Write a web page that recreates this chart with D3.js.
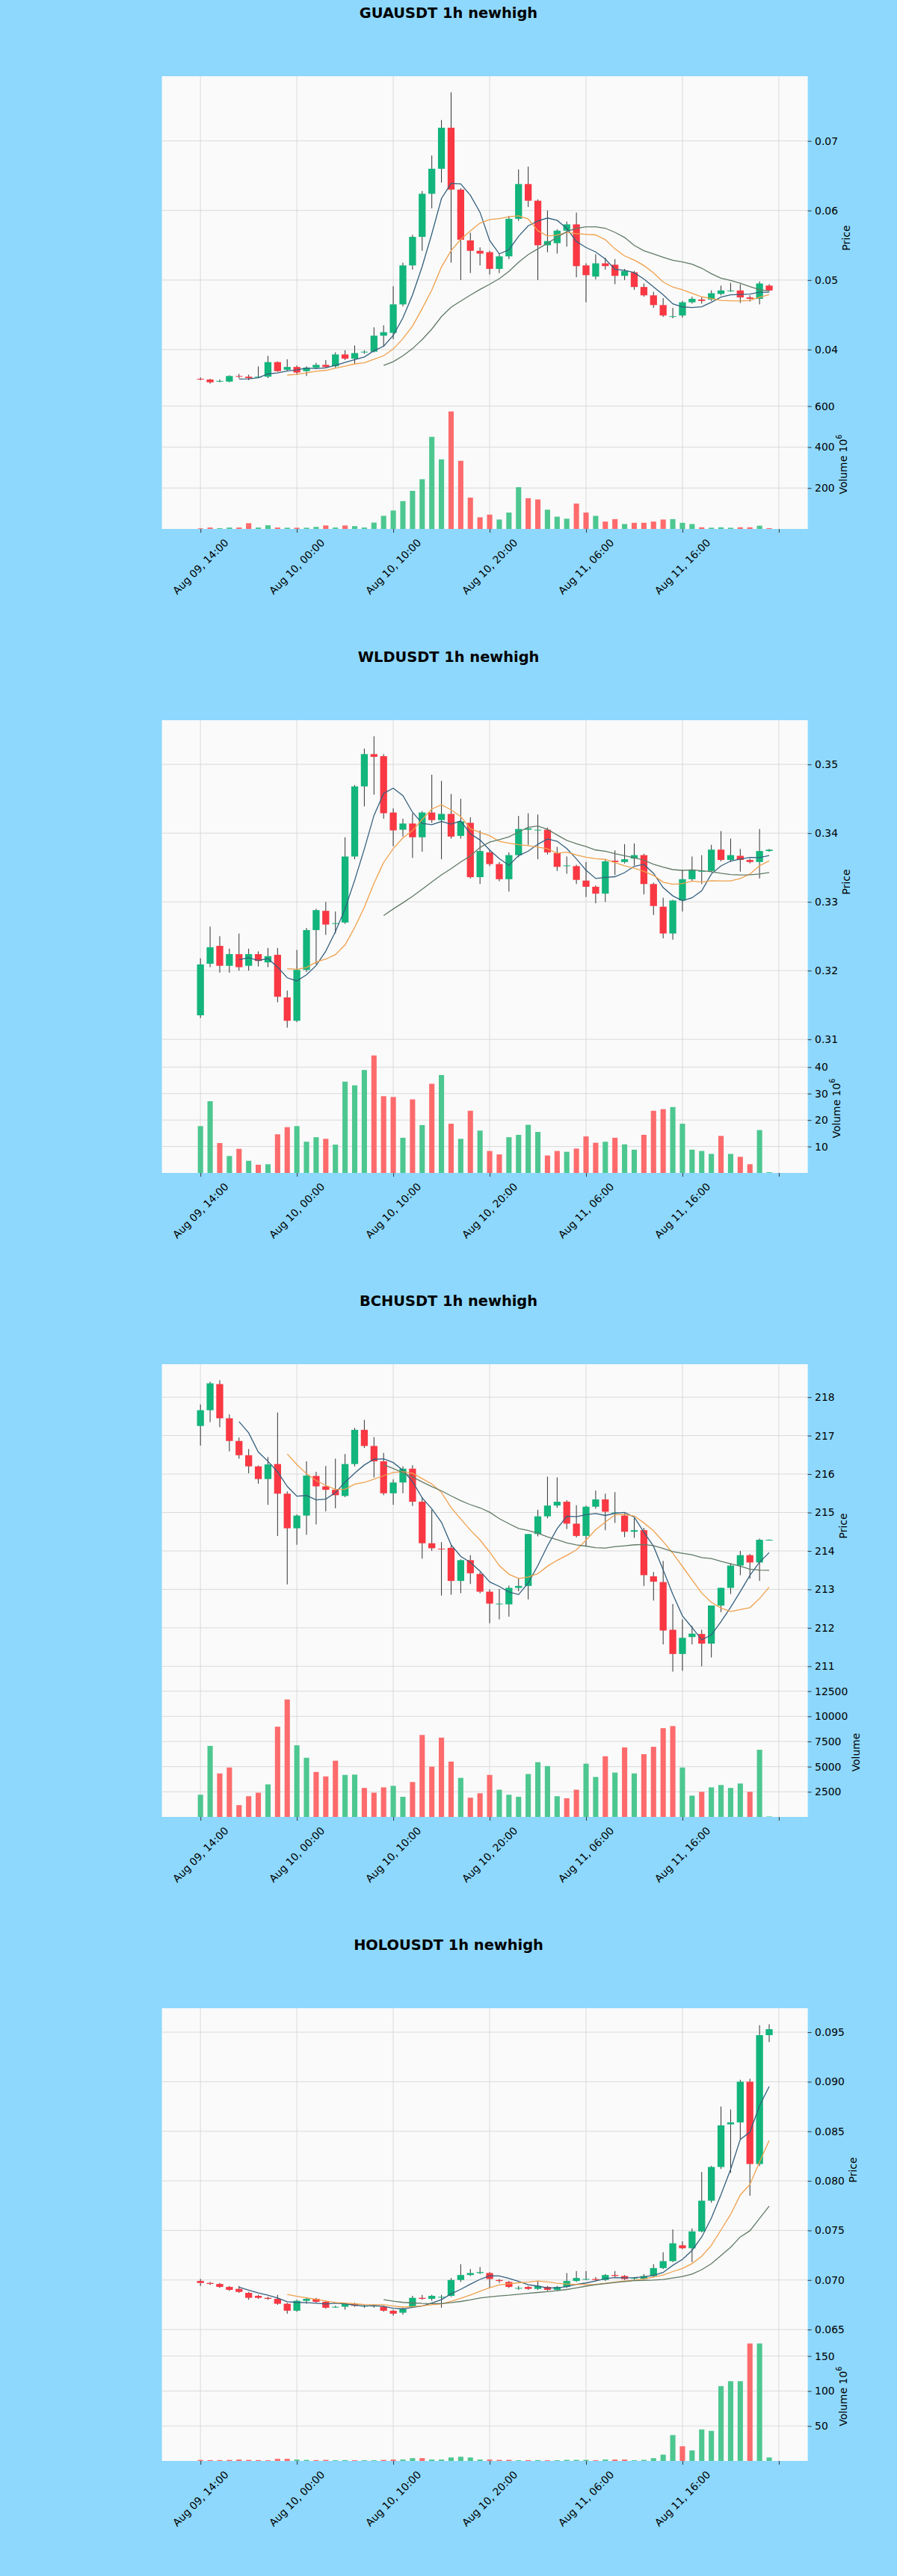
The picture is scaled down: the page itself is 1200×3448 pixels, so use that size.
<!DOCTYPE html>
<html>
<head>
<meta charset="utf-8">
<script src="https://cdn.jsdelivr.net/npm/d3@7"></script>
<style>
  body { margin: 0; background: #8ed8fd; }
  svg { display: block; font-family: "DejaVu Sans", sans-serif; }
</style>
</head>
<body>
<svg id="chart" width="1200" height="3448"></svg>
<script>
// ---- shared axis data ----
var timeTicks = [0, 10, 20, 30, 40, 50, 60];
var timeLabels = ["Aug 09, 14:00", "Aug 10, 00:00", "Aug 10, 10:00", "Aug 10, 20:00", "Aug 11, 06:00", "Aug 11, 16:00"];
var maPeriods = [5, 10, 20];

// ---- GUAUSDT (volume in 1e6) ----
var guaOpen  = [0.0358,0.0357,0.0354,0.0354,0.0362,0.0361,0.0360,0.0361,0.0382,0.0371,0.0375,0.0369,0.0374,0.0378,0.0376,0.0393,0.0387,0.0396,0.0397,0.0420,
                0.0424,0.0465,0.0521,0.0562,0.0624,0.0660,0.0719,0.0630,0.0557,0.0542,0.0540,0.0516,0.0534,0.0588,0.0638,0.0614,0.0550,0.0553,0.0571,0.0580,
                0.0521,0.0505,0.0524,0.0522,0.0506,0.0511,0.0490,0.0478,0.0464,0.0448,0.0449,0.0468,0.0472,0.0472,0.0480,0.0485,0.0485,0.0475,0.0473,0.0492];
var guaHigh  = [0.0360,0.0358,0.0357,0.0363,0.0365,0.0364,0.0376,0.0391,0.0383,0.0386,0.0377,0.0376,0.0381,0.0385,0.0396,0.0399,0.0406,0.0399,0.0432,0.0435,
                0.0491,0.0525,0.0565,0.0628,0.0679,0.0730,0.0770,0.0632,0.0568,0.0547,0.0542,0.0537,0.0592,0.0659,0.0663,0.0616,0.0600,0.0573,0.0584,0.0597,
                0.0524,0.0537,0.0532,0.0530,0.0516,0.0513,0.0495,0.0483,0.0474,0.0460,0.0470,0.0476,0.0475,0.0485,0.0492,0.0496,0.0494,0.0478,0.0498,0.0494];
var guaLow   = [0.0356,0.0351,0.0353,0.0353,0.0359,0.0356,0.0359,0.0359,0.0368,0.0369,0.0364,0.0362,0.0372,0.0373,0.0374,0.0385,0.0379,0.0394,0.0396,0.0405,
                0.0415,0.0462,0.0515,0.0542,0.0603,0.0640,0.0525,0.0500,0.0510,0.0521,0.0508,0.0510,0.0530,0.0585,0.0605,0.0500,0.0540,0.0538,0.0548,0.0504,
                0.0468,0.0501,0.0515,0.0494,0.0500,0.0486,0.0476,0.0460,0.0447,0.0445,0.0446,0.0466,0.0466,0.0470,0.0478,0.0483,0.0467,0.0469,0.0465,0.0484];
var guaClose = [0.0357,0.0353,0.0355,0.0362,0.0361,0.0359,0.0361,0.0382,0.0369,0.0375,0.0367,0.0374,0.0378,0.0375,0.0393,0.0387,0.0395,0.0397,0.0420,0.0425,
                0.0465,0.0521,0.0562,0.0624,0.0660,0.0719,0.0630,0.0558,0.0542,0.0538,0.0516,0.0534,0.0588,0.0638,0.0614,0.0550,0.0556,0.0571,0.0580,0.0520,
                0.0507,0.0524,0.0520,0.0506,0.0513,0.0490,0.0478,0.0464,0.0449,0.0448,0.0468,0.0473,0.0470,0.0481,0.0485,0.0485,0.0475,0.0473,0.0495,0.0485];
var guaVolume = [3,7,4,7,7,28,7,18,7,6,6,6,10,17,7,17,14,7,31,64,
                 90,136,186,243,450,340,574,333,153,57,70,46,80,204,150,144,94,60,50,124,
                 80,64,36,48,24,30,30,36,46,48,30,24,8,6,8,6,8,8,16,4];

// ---- WLDUSDT (volume in 1e6) ----
var wldOpen  = [0.3135,0.3210,0.3236,0.3207,0.3224,0.3207,0.3224,0.3212,0.3223,0.3161,0.3127,0.3201,0.3259,0.3287,0.3269,0.3270,0.3366,0.3468,0.3515,0.3512,
                0.3430,0.3405,0.3414,0.3394,0.3430,0.3419,0.3428,0.3396,0.3415,0.3336,0.3372,0.3355,0.3333,0.3368,0.3405,0.3405,0.3405,0.3371,0.3353,0.3352,
                0.3331,0.3322,0.3312,0.3360,0.3358,0.3363,0.3368,0.3326,0.3293,0.3254,0.3302,0.3333,0.3345,0.3345,0.3376,0.3361,0.3367,0.3361,0.3358,0.3374];
var wldHigh  = [0.3218,0.3264,0.3250,0.3232,0.3254,0.3232,0.3228,0.3233,0.3233,0.3171,0.3230,0.3262,0.3290,0.3300,0.3286,0.3394,0.3470,0.3523,0.3541,0.3515,
                0.3436,0.3421,0.3429,0.3432,0.3485,0.3476,0.3457,0.3450,0.3423,0.3404,0.3376,0.3358,0.3372,0.3425,0.3429,0.3427,0.3408,0.3380,0.3366,0.3354,
                0.3358,0.3324,0.3362,0.3375,0.3384,0.3385,0.3370,0.3328,0.3306,0.3303,0.3347,0.3366,0.3368,0.3383,0.3403,0.3392,0.3377,0.3363,0.3406,0.3377];
var wldLow   = [0.3131,0.3205,0.3197,0.3197,0.3200,0.3200,0.3206,0.3205,0.3154,0.3117,0.3125,0.3198,0.3209,0.3252,0.3254,0.3268,0.3362,0.3439,0.3456,0.3421,
                0.3381,0.3395,0.3364,0.3373,0.3415,0.3362,0.3392,0.3392,0.3334,0.3326,0.3352,0.3330,0.3315,0.3365,0.3383,0.3362,0.3369,0.3345,0.3341,0.3326,
                0.3307,0.3298,0.3300,0.3339,0.3356,0.3353,0.3311,0.3281,0.3247,0.3245,0.3286,0.3330,0.3326,0.3343,0.3359,0.3358,0.3344,0.3356,0.3334,0.3373];
var wldClose = [0.3209,0.3234,0.3207,0.3224,0.3205,0.3224,0.3214,0.3221,0.3162,0.3127,0.3201,0.3259,0.3288,0.3267,0.3269,0.3366,0.3468,0.3515,0.3511,0.3429,
                0.3404,0.3414,0.3394,0.3430,0.3419,0.3428,0.3395,0.3417,0.3336,0.3374,0.3355,0.3333,0.3368,0.3406,0.3407,0.3405,0.3372,0.3351,0.3353,0.3332,
                0.3322,0.3312,0.3359,0.3358,0.3362,0.3368,0.3326,0.3294,0.3254,0.3302,0.3333,0.3347,0.3345,0.3376,0.3361,0.3368,0.3361,0.3358,0.3374,0.3376];
var wldVolume = [17.7,27.1,11.3,6.4,9.1,4.6,3.1,3.3,14.6,17.3,17.7,11.8,13.5,12.9,10.7,34.5,33.1,38.9,44.4,29.0,
                 28.7,13.3,27.8,18.1,33.7,37.0,18.6,12.9,23.5,16.0,8.3,7.0,13.5,14.4,18.2,15.5,6.6,8.3,8.0,9.2,
                 13.8,11.4,11.8,13.3,10.8,8.8,14.4,23.5,24.1,24.9,18.6,8.8,8.3,7.2,14.0,7.2,6.1,3.3,16.2,0.3];

// ---- BCHUSDT ----
var bchOpen  = [217.25,217.66,218.34,217.45,216.86,216.49,216.20,215.87,216.26,215.49,214.59,214.92,215.95,215.68,215.59,215.43,216.26,217.15,216.73,216.33,
                215.50,215.78,216.14,215.28,214.20,214.06,214.08,213.22,213.76,213.40,212.94,212.63,212.61,213.04,213.09,214.44,214.90,215.18,215.28,214.71,
                214.39,215.15,215.34,215.00,214.92,214.50,214.54,213.34,213.19,211.95,211.32,211.76,211.84,211.59,212.58,213.04,213.62,213.89,213.70,214.29];
var bchHigh  = [217.81,218.40,218.44,217.55,216.95,216.65,216.22,216.44,217.60,215.55,214.95,216.33,216.06,216.21,216.40,216.52,217.20,217.41,216.96,216.55,
                215.86,216.20,216.23,215.40,215.07,214.23,214.15,213.78,213.89,213.45,213.00,213.01,213.10,213.30,214.44,215.07,215.93,215.91,215.32,215.19,
                215.18,215.57,215.49,215.53,214.98,214.85,214.60,213.45,213.74,212.62,212.22,212.05,211.95,212.58,213.04,213.68,214.00,213.92,214.32,214.30];
var bchLow   = [216.74,217.35,217.22,216.59,216.40,216.02,215.75,215.20,214.39,213.13,214.16,214.42,214.69,215.03,215.11,215.40,216.20,216.68,215.91,215.45,
                215.20,215.50,215.17,213.80,214.00,212.84,212.86,212.90,213.14,212.90,212.12,212.22,212.29,212.95,212.74,214.38,214.85,215.12,214.57,214.35,
                214.12,215.10,214.54,214.73,214.36,214.34,213.09,212.71,211.57,210.86,210.88,211.57,211.00,211.23,212.41,212.88,213.37,213.28,213.22,214.28];
var bchClose = [217.66,218.36,217.45,216.86,216.49,216.20,215.87,216.25,215.49,214.59,214.92,215.96,215.68,215.59,215.45,216.26,217.15,216.73,216.33,215.50,
                215.78,216.14,215.28,214.20,214.07,214.04,213.22,213.76,213.42,212.94,212.63,212.63,213.04,213.09,214.44,214.90,215.18,215.28,214.71,214.39,
                215.15,215.34,215.02,215.00,214.50,214.54,213.37,213.20,211.93,211.32,211.74,211.85,211.59,212.58,213.04,213.62,213.89,213.70,214.29,214.29];
var bchVolume = [2206,7059,4324,4912,1176,2059,2412,3235,8970,11676,7118,5882,4470,4029,5588,4176,4206,2882,2412,2941,
                 3088,2000,3470,8147,5000,7882,5500,3882,1912,2353,4176,2706,2206,2000,4265,5441,5059,2059,1853,2706,
                 5294,3971,6029,4412,6912,4324,6235,6970,8823,9029,4912,2118,2500,2941,3176,2882,3323,2500,6676,50];

// ---- HOLOUSDT (volume in 1e6) ----
var holoOpen  = [0.0699,0.0697,0.0696,0.0693,0.0691,0.0687,0.0684,0.0682,0.0681,0.0676,0.0669,0.0679,0.0681,0.0678,0.0673,0.0673,0.0676,0.0674,0.0674,0.0673,
                 0.0669,0.0667,0.0673,0.0682,0.0681,0.0683,0.0684,0.0700,0.0705,0.0707,0.0707,0.0700,0.0698,0.0692,0.0693,0.0691,0.0693,0.0690,0.0693,0.0699,
                 0.0701,0.0701,0.0700,0.0705,0.0704,0.0702,0.0701,0.0704,0.0712,0.0719,0.0735,0.0732,0.0749,0.0780,0.0814,0.0857,0.0859,0.0900,0.0817,0.0947];
var holoHigh  = [0.0701,0.0698,0.0697,0.0694,0.0694,0.0688,0.0685,0.0683,0.0685,0.0677,0.0680,0.0682,0.0682,0.0679,0.0674,0.0677,0.0677,0.0675,0.0675,0.0674,
                 0.0670,0.0672,0.0684,0.0685,0.0685,0.0685,0.0702,0.0716,0.0711,0.0713,0.0708,0.0701,0.0699,0.0694,0.0694,0.0699,0.0694,0.0694,0.0707,0.0709,
                 0.0709,0.0703,0.0706,0.0709,0.0705,0.0703,0.0706,0.0716,0.0728,0.0751,0.0739,0.0752,0.0809,0.0815,0.0875,0.0872,0.0902,0.0903,0.0957,0.0958];
var holoLow   = [0.0694,0.0695,0.0692,0.0689,0.0687,0.0680,0.0681,0.0680,0.0675,0.0666,0.0668,0.0676,0.0677,0.0671,0.0672,0.0670,0.0673,0.0672,0.0672,0.0668,
                 0.0664,0.0665,0.0672,0.0680,0.0679,0.0672,0.0683,0.0698,0.0704,0.0706,0.0692,0.0697,0.0692,0.0690,0.0690,0.0690,0.0689,0.0689,0.0692,0.0698,
                 0.0700,0.0699,0.0699,0.0703,0.0700,0.0700,0.0700,0.0703,0.0711,0.0718,0.0731,0.0718,0.0748,0.0778,0.0812,0.0808,0.0842,0.0785,0.0815,0.0940];
var holoClose = [0.0697,0.0696,0.0693,0.0690,0.0688,0.0682,0.0682,0.0681,0.0676,0.0669,0.0679,0.0681,0.0678,0.0672,0.0673,0.0676,0.0674,0.0674,0.0674,0.0669,
                 0.0666,0.0671,0.0682,0.0681,0.0684,0.0683,0.0700,0.0705,0.0707,0.0708,0.0701,0.0699,0.0693,0.0692,0.0691,0.0694,0.0690,0.0693,0.0699,0.0702,
                 0.0701,0.0700,0.0705,0.0704,0.0701,0.0702,0.0704,0.0712,0.0719,0.0737,0.0732,0.0749,0.0780,0.0814,0.0856,0.0859,0.0900,0.0817,0.0947,0.0953];
var holoVolume = [1.5,1.2,1.2,1.5,2,1.5,1.2,1,3,3,2,1.5,1.2,1.5,1,1.2,1,1,1,1.5,
                  2,2,4,4,2,2,5,6,5,2,2,1.5,1.5,1,1.2,1.2,1,1,1.5,1.5,
                  1.5,1,2,2,2,1,1.5,4,9,37,21,15,45,43,107,114,114,168,168,5];

// tick values per panel
var guaPriceTicks = [0.04, 0.05, 0.06, 0.07], guaVolTicks = [200, 400, 600];
var wldPriceTicks = [0.31, 0.32, 0.33, 0.34, 0.35], wldVolTicks = [10, 20, 30, 40];
var bchPriceTicks = [211, 212, 213, 214, 215, 216, 217, 218], bchVolTicks = [2500, 5000, 7500, 10000, 12500];
var holoPriceTicks = [0.065, 0.070, 0.075, 0.080, 0.085, 0.090, 0.095], holoVolTicks = [50, 100, 150];

var charts = [
  { title: "GUAUSDT 1h newhigh", o: guaOpen, h: guaHigh, l: guaLow, c: guaClose, v: guaVolume,
    pTicks: guaPriceTicks, vTicks: guaVolTicks, pFmt: ".2f", volExp: true },
  { title: "WLDUSDT 1h newhigh", o: wldOpen, h: wldHigh, l: wldLow, c: wldClose, v: wldVolume,
    pTicks: wldPriceTicks, vTicks: wldVolTicks, pFmt: ".2f", volExp: true },
  { title: "BCHUSDT 1h newhigh", o: bchOpen, h: bchHigh, l: bchLow, c: bchClose, v: bchVolume,
    pTicks: bchPriceTicks, vTicks: bchVolTicks, pFmt: "d", volExp: false },
  { title: "HOLOUSDT 1h newhigh", o: holoOpen, h: holoHigh, l: holoLow, c: holoClose, v: holoVolume,
    pTicks: holoPriceTicks, vTicks: holoVolTicks, pFmt: ".3f", volExp: true }
];

// ---- style ----
var upColor = "#12b57b", downColor = "#f93843";
var volUp = "#4dc790", volDown = "#fd6b6c";
var wickColor = "#333333";
var maColors = ["#34607f", "#f0a04b", "#617a66"];
var gridColor = "#dadada";
var fs = 13.9;

var panelH = 862;
var left = 216.6, right = 1080.6;
var priceTop = 102, priceBottom = 535, volBottom = 708;

var svg = d3.select("#chart");

function movingAvg(arr, p) {
  return arr.map(function(d, i) {
    return i < p - 1 ? null : d3.mean(arr.slice(i - p + 1, i + 1));
  });
}

function drawChart(cfg, k) {
  var oy = k * panelH;
  var g = svg.append("g").attr("transform", "translate(0," + oy + ")");

  var x = d3.scaleLinear().domain([-4, 63]).range([left, right]);
  var step = x(1) - x(0);

  var lo = d3.min(cfg.l), hi = d3.max(cfg.h), pad = (hi - lo) * 0.055;
  var yP = d3.scaleLinear().domain([lo - pad, hi + pad]).range([priceBottom, priceTop]);
  var yV = d3.scaleLinear().domain([0, d3.max(cfg.v) * 1.1]).range([volBottom, priceBottom]);

  // title
  g.append("text")
    .attr("x", 600).attr("y", 23.5)
    .attr("text-anchor", "middle")
    .style("font-size", "19.4px").style("font-weight", "bold")
    .text(cfg.title);

  // plot background
  g.append("rect")
    .attr("x", left).attr("y", priceTop)
    .attr("width", right - left).attr("height", volBottom - priceTop)
    .attr("fill", "#fafafa");

  // grid
  var grid = g.append("g").attr("stroke", gridColor).attr("stroke-width", 1);
  grid.selectAll(".vg").data(timeTicks).enter().append("line")
    .attr("x1", d => x(d)).attr("x2", d => x(d))
    .attr("y1", priceTop).attr("y2", volBottom);
  grid.selectAll(".pg").data(cfg.pTicks).enter().append("line")
    .attr("x1", left).attr("x2", right)
    .attr("y1", d => yP(d)).attr("y2", d => yP(d));
  grid.selectAll(".vgr").data(cfg.vTicks).enter().append("line")
    .attr("x1", left).attr("x2", right)
    .attr("y1", d => yV(d)).attr("y2", d => yV(d));

  var idx = d3.range(cfg.c.length);

  // volume bars
  var vw = step * 0.55;
  g.append("g").selectAll("rect").data(idx).enter().append("rect")
    .attr("x", i => x(i) - vw / 2)
    .attr("y", i => yV(cfg.v[i]))
    .attr("width", vw)
    .attr("height", i => yV(0) - yV(cfg.v[i]))
    .attr("fill", i => cfg.c[i] >= cfg.o[i] ? volUp : volDown);

  // candles
  var bw = step * 0.72;
  var candles = g.append("g").selectAll("g").data(idx).enter().append("g");
  candles.append("line")
    .attr("x1", i => x(i)).attr("x2", i => x(i))
    .attr("y1", i => yP(cfg.h[i])).attr("y2", i => yP(cfg.l[i]))
    .attr("stroke", wickColor).attr("stroke-width", 1);
  candles.append("rect")
    .attr("x", i => x(i) - bw / 2)
    .attr("y", i => yP(Math.max(cfg.o[i], cfg.c[i])))
    .attr("width", bw)
    .attr("height", i => Math.max(1, Math.abs(yP(cfg.o[i]) - yP(cfg.c[i]))))
    .attr("fill", i => cfg.c[i] >= cfg.o[i] ? upColor : downColor);

  // moving averages of the closes
  maPeriods.forEach(function(p, j) {
    var ma = movingAvg(cfg.c, p);
    var line = d3.line()
      .defined(d => d != null)
      .x((d, i) => x(i))
      .y(d => yP(d));
    g.append("path").datum(ma)
      .attr("d", line)
      .attr("fill", "none")
      .attr("stroke", maColors[j])
      .attr("stroke-width", 1.3);
  });

  // right axes
  var pAxis = g.append("g").attr("transform", "translate(" + right + ",0)")
    .call(d3.axisRight(yP).tickValues(cfg.pTicks).tickFormat(d3.format(cfg.pFmt)).tickSize(5).tickPadding(4.5));
  var vAxis = g.append("g").attr("transform", "translate(" + right + ",0)")
    .call(d3.axisRight(yV).tickValues(cfg.vTicks).tickFormat(d3.format("d")).tickSize(5).tickPadding(4.5));
  [pAxis, vAxis].forEach(function(a) {
    a.select(".domain").remove();
    a.selectAll("text").style("font-size", fs + "px").attr("fill", "#000").attr("font-family", "DejaVu Sans");
    a.selectAll("line").attr("stroke", "#333");
  });

  function labelX(axis) {
    var w = 0;
    axis.selectAll("text").each(function() { w = Math.max(w, this.getComputedTextLength()); });
    return right + 5 + 4.5 + w + 4 + fs / 2;
  }

  var px = labelX(pAxis);
  g.append("text")
    .attr("transform", "translate(" + px + "," + (priceTop + priceBottom) / 2 + ") rotate(-90)")
    .attr("text-anchor", "middle").attr("dominant-baseline", "central")
    .style("font-size", fs + "px")
    .text("Price");

  var vx = labelX(vAxis);
  var vl = g.append("text")
    .attr("transform", "translate(" + vx + "," + (priceBottom + volBottom) / 2 + ") rotate(-90)")
    .attr("text-anchor", "middle").attr("dominant-baseline", "central")
    .style("font-size", fs + "px");
  vl.append("tspan").text(cfg.volExp ? "Volume  10" : "Volume");
  if (cfg.volExp) {
    vl.append("tspan").attr("dy", -6).style("font-size", "9.7px").text("6");
  }

  // bottom axis
  var xAxis = g.append("g").attr("transform", "translate(0," + volBottom + ")")
    .call(d3.axisBottom(x).tickValues(timeTicks).tickFormat("").tickSize(5));
  xAxis.select(".domain").remove();
  xAxis.selectAll("line").attr("stroke", "#333");

  var labelTop = volBottom + 5 + 4.9;
  timeLabels.forEach(function(lab, j) {
    var t = g.append("text")
      .attr("text-anchor", "middle").attr("dominant-baseline", "central")
      .style("font-size", fs + "px")
      .text(lab);
    var L = t.node().getComputedTextLength();
    var half = (L + fs * 1.17) / (2 * Math.SQRT2);
    t.attr("transform", "translate(" + x(timeTicks[j]) + "," + (labelTop + half) + ") rotate(-45)");
  });
}

charts.forEach(drawChart);
</script>
</body>
</html>
